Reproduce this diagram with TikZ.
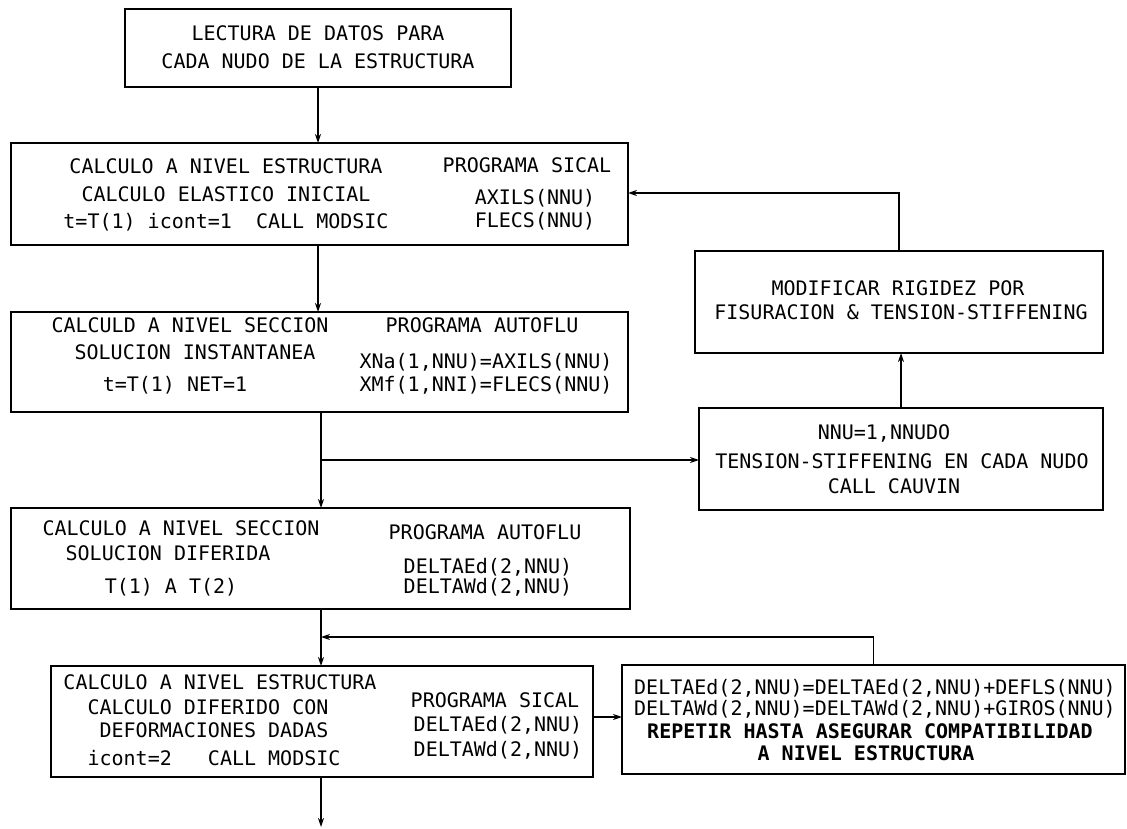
\documentclass[tikz,border=0pt]{standalone}
\usepackage{fontspec}
\setmonofont{DejaVu Sans Mono}
\usetikzlibrary{arrows.meta}
\begin{document}
\begin{tikzpicture}[x=1pt,y=-1pt,
  box/.style={draw, line width=1.4pt, rectangle, inner sep=0pt, outer sep=0pt, anchor=north west},
  txt/.style={font=\ttfamily\fontsize{20}{22}\selectfont, inner sep=0pt},
  btxt/.style={font=\ttfamily\bfseries\fontsize{20}{22}\selectfont, inner sep=0pt},
  conn/.style={line width=1.4pt},
  arr/.style={conn, -{Stealth[open,length=9pt,width=6pt]}}]
\useasboundingbox (0,0) rectangle (1127,829);

% boxes
\node[box, minimum width=386pt, minimum height=78pt]  (b1) at (125,9) {};
\node[box, minimum width=617pt, minimum height=102pt] (b2) at (11,143) {};
\node[box, minimum width=617pt, minimum height=100pt] (b3) at (11,312) {};
\node[box, minimum width=619pt, minimum height=101pt] (b4) at (11,508) {};
\node[box, minimum width=542pt, minimum height=111pt] (b5) at (51,666) {};
\node[box, minimum width=408pt, minimum height=102pt] (bm) at (695,251) {};
\node[box, minimum width=404pt, minimum height=102pt] (bn) at (699,408) {};
\node[box, minimum width=503pt, minimum height=109pt] (br) at (622,665) {};

% texts box 1
\node[txt] (t11) at (318,33) {LECTURA DE DATOS PARA};
\node[txt] (t12) at (318,61) {CADA NUDO DE LA ESTRUCTURA};
% box 2
\node[txt] (t21) at (226,166) {CALCULO A NIVEL ESTRUCTURA};
\node[txt] (t22) at (226,194) {CALCULO ELASTICO INICIAL};
\node[txt] (t23) at (226,222) {t=T(1) icont=1\ \ CALL MODSIC};
\node[txt] (t24) at (527,165) {PROGRAMA SICAL};
\node[txt] (t25) at (535,198) {AXILS(NNU)};
\node[txt] (t26) at (535,221) {FLECS(NNU)};
% box 3
\node[txt] (t31) at (190,325) {CALCULD A NIVEL SECCION};
\node[txt] (t32) at (195,352) {SOLUCION INSTANTANEA};
\node[txt] (t33) at (175,385) {t=T(1) NET=1};
\node[txt] (t34) at (482,325) {PROGRAMA AUTOFLU};
\node[txt] (t35) at (486,362) {XNa(1,NNU)=AXILS(NNU)};
\node[txt] (t36) at (486,385) {XMf(1,NNI)=FLECS(NNU)};
% box 4
\node[txt] (t41) at (181,528) {CALCULO A NIVEL SECCION};
\node[txt] (t42) at (168,553) {SOLUCION DIFERIDA};
\node[txt] (t43) at (171,587) {T(1) A T(2)};
\node[txt] (t44) at (485,532) {PROGRAMA AUTOFLU};
\node[txt] (t45) at (488,567) {DELTAEd(2,NNU)};
\node[txt] (t46) at (488,587) {DELTAWd(2,NNU)};
% box 5
\node[txt] (t51) at (220,682) {CALCULO A NIVEL ESTRUCTURA};
\node[txt] (t52) at (208,707) {CALCULO DIFERIDO CON};
\node[txt] (t53) at (214,730) {DEFORMACIONES DADAS};
\node[txt] (t54) at (214,758) {icont=2\ \ \ CALL MODSIC};
\node[txt] (t55) at (495,700) {PROGRAMA SICAL};
\node[txt] (t56) at (498,725) {DELTAEd(2,NNU)};
\node[txt] (t57) at (498,750) {DELTAWd(2,NNU)};
% right boxes
\node[txt] (tm1) at (898,288) {MODIFICAR RIGIDEZ POR};
\node[txt] (tm2) at (901,312) {FISURACION \& TENSION-STIFFENING};
\node[txt] (tn1) at (884,433) {NNU=1,NNUDO};
\node[txt] (tn2) at (902,461) {TENSION-STIFFENING EN CADA NUDO};
\node[txt] (tn3) at (894,486) {CALL CAUVIN};
\node[txt]  (tr1) at (875,688) {DELTAEd(2,NNU)=DELTAEd(2,NNU)+DEFLS(NNU)};
\node[txt]  (tr2) at (875,709) {DELTAWd(2,NNU)=DELTAWd(2,NNU)+GIROS(NNU)};
\node[btxt] (tr3) at (870,731) {REPETIR HASTA ASEGURAR COMPATIBILIDAD};
\node[btxt] (tr4) at (866,753) {A NIVEL ESTRUCTURA};

% connectors
\coordinate (v2) at (321,0);
\coordinate (j1) at (321,460);
\coordinate (k2) at (0,193);
\coordinate (j3) at (321,637);
\coordinate (k5) at (0,717);
\coordinate (out) at (321,827);
\draw[arr] (b1.south) -- (b1.south |- b2.north);
\draw[arr] (b1.south |- b2.south) -- (b1.south |- b3.north);
\draw[arr] (v2 |- b3.south) -- (v2 |- b4.north);
\draw[arr] (j1) -- (j1 -| bn.west);
\draw[arr] (bn.north) -- (bn.north |- bm.south);
\draw[arr] (bm.north) |- (k2 -| b2.east);
\draw[arr] (v2 |- b4.south) -- (v2 |- b5.north);
\draw[arr] (br.north) |- (j3);
\draw[arr] (k5 -| b5.east) -- (k5 -| br.west);
\draw[arr] (v2 |- b5.south) -- (out);
\end{tikzpicture}
\end{document}
